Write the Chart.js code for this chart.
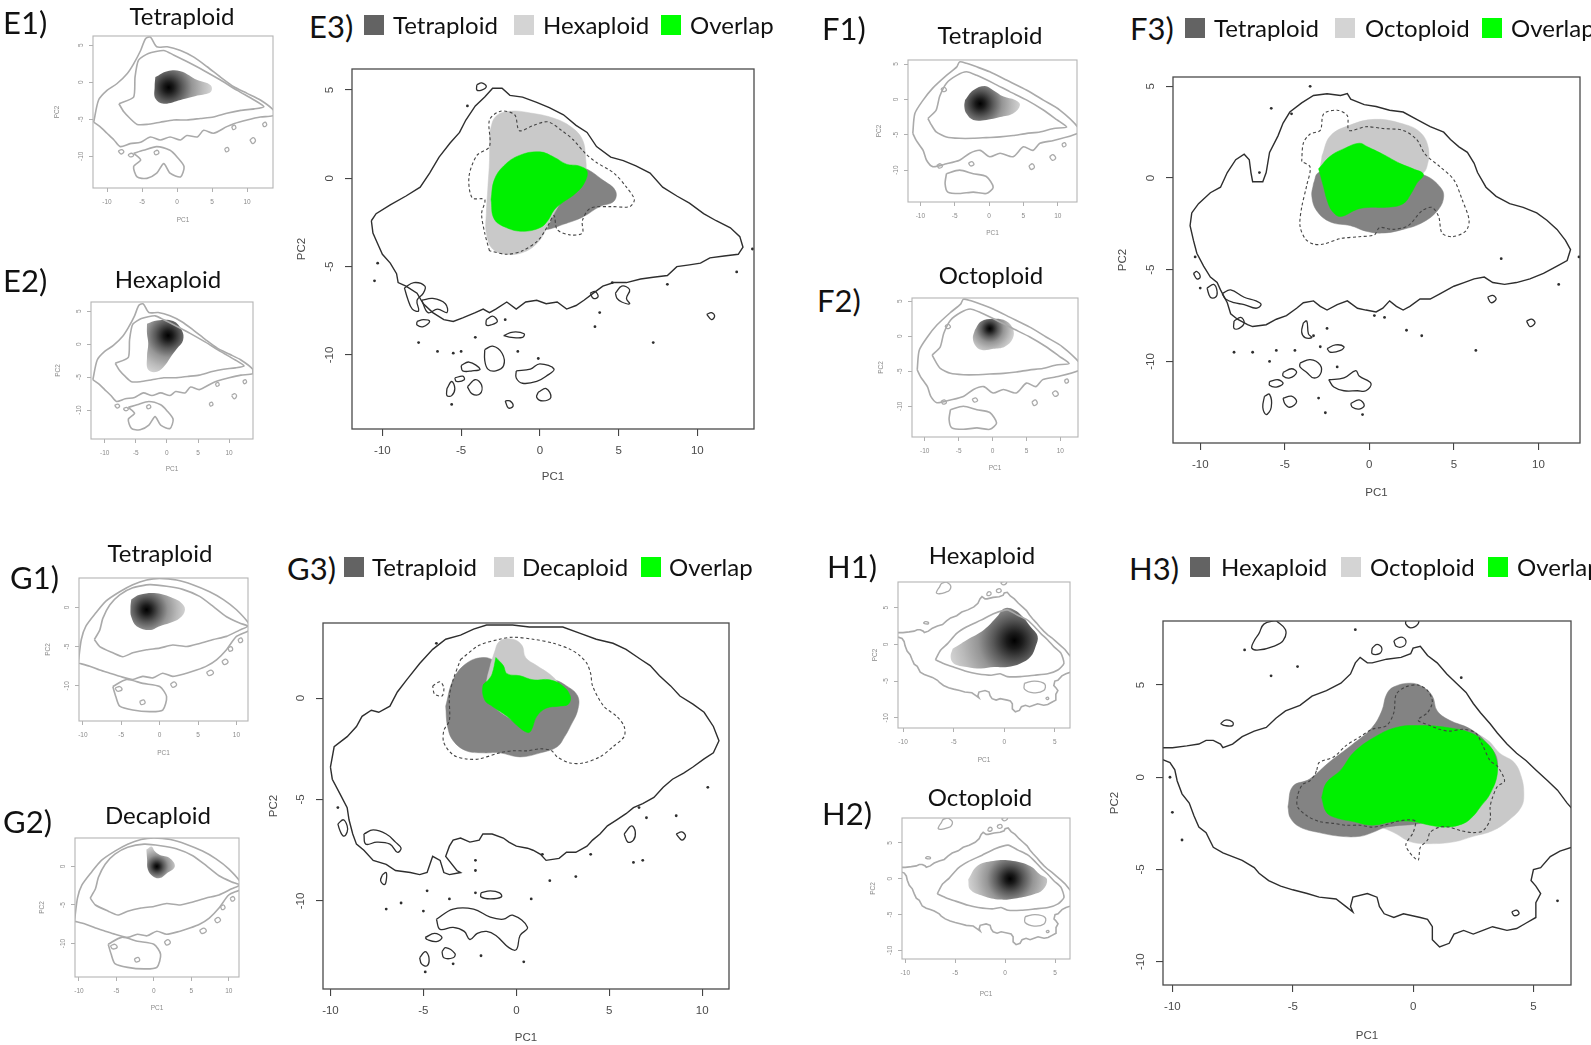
<!DOCTYPE html>
<html>
<head>
<meta charset="utf-8">
<script src="https://cdn.jsdelivr.net/npm/chart.js@4.4.1/dist/chart.umd.min.js"></script>
<style>
  body { margin: 0; background: #fff; width: 1591px; height: 1045px; overflow: hidden; position: relative; font-family: Lato, sans-serif; }
  canvas { position: absolute; }
  .t { position: absolute; white-space: nowrap; line-height: 1; color: #111; transform: translateY(-50%); }
  .c { transform: translate(-50%, -50%); }
  .sq { position: absolute; width: 20px; height: 20px; }
</style>
</head>
<body>
<script>
// ---- tick labels ----
const X_TICKS = [-10, -5, 0, 5, 10];
const X_TICKS_H = [-10, -5, 0, 5];
const Y_TICKS = [5, 0, -5, -10];
const Y_TICKS_G = [0, -5, -10];

// ---- E: tetraploid vs hexaploid ----
const E_OUTER = [[-10.7,-2.4],[-10.4,-2.0],[-9.5,-1.5],[-8.5,-1.0],[-7.6,-0.5],[-7.0,0.3],[-6.4,1.2],[-5.7,2.0],[-5.1,2.6],[-4.7,3.3],[-4.1,4.1],[-3.5,4.6],[-3.0,5.1],[-2.4,5.1],[-1.9,4.7],[-1.1,4.6],[-0.2,4.3],[0.6,4.0],[1.5,3.6],[2.3,3.0],[3.0,2.6],[3.6,1.8],[4.5,1.2],[5.3,1.0],[6.1,0.7],[7.0,0.3],[7.8,-0.5],[8.7,-1.0],[9.5,-1.4],[10.4,-2.0],[11.2,-2.4],[12.1,-2.8],[12.7,-3.3],[12.9,-3.9],[12.6,-4.3],[11.7,-4.4],[10.8,-4.5],[10.2,-4.8],[9.5,-4.9],[8.7,-5.0],[8.1,-5.5],[7.2,-5.6],[6.4,-5.7],[5.5,-5.9],[4.7,-5.9],[4.0,-6.1],[3.4,-6.5],[2.8,-6.9],[2.3,-7.2],[1.7,-7.4],[1.1,-7.0],[0.4,-7.1],[-0.2,-6.9],[-0.9,-7.0],[-1.5,-7.4],[-2.1,-7.0],[-2.8,-7.4],[-3.2,-7.6],[-3.6,-7.4],[-4.1,-7.6],[-4.9,-7.9],[-5.5,-8.1],[-6.1,-8.0],[-6.8,-7.6],[-7.4,-7.1],[-7.8,-6.5],[-8.5,-6.1],[-9.0,-5.9],[-9.1,-5.4],[-9.5,-4.8],[-10.0,-4.3],[-10.3,-3.7],[-10.6,-3.1]];
const E_WIDE = [[-11.9,-5.4],[-11.2,-2.4],[-10.0,-1.1],[-8.6,-0.2],[-7.1,1.2],[-6.2,2.5],[-5.2,4.3],[-4.5,5.9],[-3.8,6.1],[-2.9,4.8],[-1.4,4.8],[0.5,4.3],[2.4,3.4],[4.3,2.1],[6.2,0.7],[8.1,-0.6],[10.0,-1.5],[11.9,-2.4],[13.8,-3.8],[13.8,-4.5],[11.9,-4.7],[10.0,-5.1],[8.1,-5.6],[7.1,-6.0],[5.2,-6.9],[3.8,-6.5],[2.9,-7.4],[1.4,-7.2],[0.5,-7.8],[-1.0,-7.4],[-2.4,-7.8],[-3.8,-7.4],[-5.2,-8.1],[-6.7,-8.3],[-8.1,-8.7],[-9.0,-7.8],[-10.0,-6.9],[-11.0,-6.0]];
const E_LOBE = [[-6.2,-9.6],[-4.8,-9.2],[-2.9,-8.7],[-1.0,-9.2],[0.0,-10.1],[1.0,-11.4],[0.5,-12.8],[-1.0,-12.3],[-1.9,-11.0],[-2.9,-12.3],[-4.3,-13.0],[-5.7,-12.8],[-6.2,-11.4],[-5.2,-10.5]];
const E_INNER = [[-8.3,-2.9],[-6.2,-2.0],[-6.0,0.7],[-5.5,3.0],[-4.1,3.9],[-1.9,4.3],[-0.5,3.7],[1.4,2.8],[3.8,1.6],[6.2,0.3],[8.6,-1.1],[11.0,-2.4],[12.4,-3.3],[11.0,-3.6],[9.1,-3.8],[7.1,-4.2],[5.2,-4.7],[3.3,-4.9],[1.4,-5.1],[-0.5,-5.1],[-2.4,-5.4],[-4.3,-5.7],[-5.7,-5.7],[-6.7,-4.9],[-7.6,-4.0]];
const E_ISLANDS = [
  [[-4.0,5.3],[-3.7,5.4],[-3.4,5.2],[-3.7,5.0],[-4.0,5.0]],
  [[-8.6,-6.2],[-8.0,-5.9],[-7.3,-6.1],[-7.4,-6.5],[-7.8,-6.9],[-7.7,-7.5],[-8.1,-7.4],[-8.4,-6.8]],
  [[-7.5,-6.9],[-6.8,-6.8],[-6.0,-7.1],[-5.9,-7.6],[-6.5,-7.4],[-7.1,-7.6]],
  [[-7.8,-8.1],[-7.4,-8.0],[-7.0,-8.1],[-7.4,-8.4],[-7.8,-8.3]],
  [[-3.4,-8.0],[-3.0,-7.8],[-2.7,-8.1],[-3.1,-8.3],[-3.4,-8.3]],
  [[-2.3,-8.9],[-1.7,-8.7],[-1.0,-8.8],[-1.1,-9.0],[-1.8,-9.0]],
  [[-3.5,-9.7],[-3.0,-9.5],[-2.4,-9.9],[-2.3,-10.6],[-2.8,-10.9],[-3.3,-10.8],[-3.5,-10.3]],
  [[-5.0,-10.6],[-4.5,-10.4],[-3.8,-10.8],[-4.3,-10.9],[-4.9,-10.9]],
  [[-5.4,-11.3],[-4.9,-11.2],[-4.8,-11.4],[-5.3,-11.5]],
  [[-5.9,-11.9],[-5.6,-11.5],[-5.4,-11.9],[-5.6,-12.3],[-5.9,-12.3]],
  [[-4.6,-11.8],[-4.1,-11.4],[-3.7,-11.7],[-3.8,-12.2],[-4.3,-12.2]],
  [[-1.5,-10.9],[-0.6,-10.8],[0.0,-10.5],[0.9,-10.8],[0.4,-11.2],[-0.2,-11.5],[-1.1,-11.6],[-1.5,-11.3]],
  [[-0.1,-12.1],[0.4,-11.9],[0.7,-12.4],[0.2,-12.6],[-0.2,-12.4]],
  [[-2.2,-12.6],[-1.9,-12.6],[-1.7,-12.9],[-2.0,-13.0]],
  [[3.2,-6.5],[3.5,-6.4],[3.7,-6.7],[3.4,-6.8]],
  [[4.8,-6.5],[5.2,-6.1],[5.7,-6.3],[5.5,-6.8],[5.7,-7.1],[5.2,-7.0],[4.9,-6.8]],
  [[10.6,-7.7],[10.9,-7.6],[11.1,-7.8],[10.9,-8.0]]
];
const E_SMALL_ISLANDS = [
  [[-8.4,-9.3],[-7.9,-9.1],[-7.6,-9.4],[-8.0,-9.7]],
  [[-7.0,-9.8],[-6.5,-9.6],[-6.2,-9.9],[-6.7,-10.1]],
  [[-3.3,-9.4],[-2.8,-9.2],[-2.6,-9.6],[-3.1,-9.8]],
  [[6.8,-9.0],[7.2,-8.8],[7.4,-9.2],[7.0,-9.4]],
  [[10.4,-7.8],[10.9,-7.5],[11.2,-7.9],[10.8,-8.3]],
  [[7.8,-6.0],[8.2,-5.8],[8.4,-6.2],[8.0,-6.4]],
  [[12.2,-5.6],[12.6,-5.4],[12.8,-5.8],[12.4,-6.0]]
];
const E_DOTS = [[-4.6,4.1],[-10.3,-4.8],[-10.5,-5.8],[4.6,-5.9],[8.1,-6.0],[3.8,-7.6],[3.5,-8.4],[7.2,-9.3],[12.5,-5.3],[13.5,-4.0],[-7.7,-9.3],[-6.5,-9.8],[-5.5,-9.9],[-5.0,-9.8],[-4.1,-9.0],[-1.4,-9.8],[-0.1,-10.2],[-5.6,-12.8],[-2.2,-8.0]];
const E3_DASH = [[-3.2,-4.1],[-3.5,-3.1],[-3.7,-2.0],[-3.5,-1.2],[-4.3,-1.1],[-4.5,0.1],[-4.0,1.3],[-3.2,1.8],[-3.2,3.3],[-2.5,3.8],[-1.6,3.6],[-1.3,2.7],[-0.4,3.0],[0.5,3.2],[1.4,2.7],[2.1,2.2],[2.9,1.4],[3.6,0.9],[4.7,0.3],[5.5,-0.5],[6.0,-1.2],[5.7,-1.6],[4.5,-1.6],[3.2,-1.7],[2.7,-2.4],[2.7,-3.1],[1.9,-3.2],[1.1,-2.9],[0.9,-2.1],[0.5,-2.7],[-0.1,-3.5],[-1.1,-4.1],[-2.1,-4.3]];
const E3_TETRA = [[-3.0,0.3],[-1.1,1.2],[1.1,1.0],[2.8,0.6],[4.0,-0.1],[4.8,-0.7],[4.7,-1.3],[3.8,-1.6],[2.7,-2.2],[1.5,-2.6],[0.4,-2.9],[-1.1,-2.9],[-2.3,-2.7],[-3.1,-2.0]];
const E3_HEXA = [[-3.2,2.6],[-2.8,3.5],[-1.9,3.8],[-0.6,3.7],[0.9,3.4],[2.0,2.9],[2.7,2.2],[2.9,1.2],[2.9,0.3],[2.5,-0.5],[1.5,-1.2],[0.9,-2.0],[0.4,-2.9],[-0.2,-3.7],[-1.1,-4.2],[-2.1,-4.3],[-3.0,-4.0],[-3.4,-3.1],[-3.4,-2.0],[-3.3,-0.5],[-3.2,1.0]];
const E3_OVERLAP = [[-3.1,-1.2],[-2.9,-0.1],[-2.3,0.7],[-1.3,1.3],[0.0,1.5],[0.9,1.2],[1.7,0.8],[2.5,0.7],[3.0,0.4],[2.8,-0.3],[2.2,-0.9],[1.4,-1.4],[0.9,-1.8],[0.5,-2.4],[0.0,-2.8],[-1.1,-3.0],[-2.1,-2.8],[-2.9,-2.3]];
const E1_BLOB = [[-3.1,0.7],[-1.4,1.5],[0.5,1.5],[2.9,0.3],[4.8,-0.4],[4.8,-1.3],[2.9,-1.8],[0.5,-2.4],[-1.9,-2.9],[-3.1,-2.2],[-3.2,-0.6]];
const E1_PEAK = [-1.2, -0.7];
const E2_BLOB = [[-3.2,3.1],[-1.6,3.6],[1.0,3.5],[2.4,2.1],[2.6,0.6],[1.6,-0.7],[0.8,-1.7],[-0.3,-3.2],[-1.6,-4.2],[-3.0,-3.9],[-3.2,-1.9],[-3.0,0.1],[-3.2,1.6]];
const E2_PEAK = [0.2, 1.3];

// ---- F: tetraploid vs octoploid ----
const F_OUTER = [[-10.5,-1.9],[-10.1,-1.4],[-9.4,-0.8],[-8.8,-0.5],[-8.4,0.3],[-7.9,1.0],[-7.4,1.3],[-7.1,1.0],[-7.0,0.3],[-6.9,-0.2],[-6.3,-0.2],[-6.1,0.3],[-5.9,1.4],[-5.4,2.3],[-5.1,3.0],[-4.7,3.6],[-4.0,4.1],[-3.3,4.5],[-2.5,4.6],[-1.7,4.5],[-1.3,4.6],[-1.1,4.3],[-0.3,4.0],[0.4,3.9],[1.2,3.7],[2.0,3.6],[2.8,3.2],[3.6,2.8],[4.4,2.5],[4.8,2.1],[5.3,1.7],[5.8,1.4],[6.2,0.8],[6.4,0.3],[6.9,-0.5],[7.5,-1.0],[8.3,-1.4],[9.1,-1.6],[9.9,-1.9],[10.5,-2.3],[11.1,-2.8],[11.6,-3.4],[11.9,-3.9],[11.7,-4.5],[11.1,-4.8],[10.3,-5.2],[9.5,-5.5],[8.7,-5.7],[8.0,-5.8],[7.3,-5.7],[6.8,-5.4],[6.2,-5.5],[5.6,-5.7],[5.0,-5.9],[4.2,-6.3],[3.6,-6.6],[3.0,-6.6],[2.4,-7.0],[2.0,-7.2],[1.6,-7.0],[1.2,-6.7],[0.8,-7.1],[0.4,-7.3],[-0.2,-7.2],[-0.7,-7.1],[-1.3,-6.7],[-1.9,-6.9],[-2.5,-7.2],[-2.9,-7.0],[-3.3,-6.7],[-3.9,-6.8],[-4.3,-7.1],[-4.9,-7.5],[-5.5,-7.7],[-6.1,-8.0],[-6.9,-8.1],[-7.2,-8.0],[-7.8,-7.7],[-8.2,-7.4],[-8.4,-6.8],[-8.8,-6.1],[-9.0,-5.7],[-9.4,-5.4],[-9.8,-4.8],[-10.2,-4.1],[-10.4,-3.4],[-10.6,-2.6]];
const F_WIDE = [[-11.1,-4.8],[-10.8,-2.0],[-9.6,-0.1],[-8.2,1.6],[-6.2,3.4],[-4.7,4.6],[-4.3,5.3],[-3.3,5.1],[-1.8,4.6],[0.1,3.9],[2.6,2.7],[5.5,1.3],[7.9,-0.1],[10.3,-1.5],[12.9,-3.9],[12.9,-4.8],[9.4,-5.8],[7.4,-6.2],[6.4,-7.2],[5.0,-6.7],[3.5,-8.1],[1.6,-7.6],[0.1,-8.1],[-1.3,-7.2],[-2.8,-7.6],[-4.3,-8.6],[-6.2,-9.1],[-8.2,-9.5],[-9.1,-8.6],[-9.6,-7.2],[-10.6,-5.8]];
const F_LOBE = [[-6.2,-10.5],[-4.3,-10.0],[-2.3,-10.5],[-0.4,-10.9],[0.6,-12.4],[-0.4,-13.3],[-2.3,-13.1],[-4.3,-13.3],[-6.0,-13.1],[-6.4,-11.9]];
const F_INNER = [[-8.9,-2.7],[-7.7,-1.5],[-7.2,0.4],[-6.2,2.3],[-4.7,3.4],[-3.3,3.9],[-1.8,3.4],[0.6,2.3],[3.0,1.1],[5.5,-0.1],[7.9,-1.5],[9.9,-2.9],[11.3,-3.9],[9.4,-4.1],[7.4,-4.6],[5.5,-4.8],[3.5,-5.1],[1.6,-5.3],[-0.4,-5.4],[-2.3,-5.5],[-4.3,-5.5],[-6.2,-5.3],[-7.7,-4.6],[-8.4,-3.6]];
const F_ISLANDS = [
  [[-10.4,-5.2],[-10.2,-5.1],[-10.0,-5.4],[-10.2,-5.5]],
  [[-9.6,-6.0],[-9.2,-5.8],[-9.0,-6.2],[-9.1,-6.5],[-9.4,-6.5]],
  [[-8.7,-6.3],[-8.2,-6.1],[-7.4,-6.5],[-6.7,-6.7],[-6.4,-6.9],[-6.7,-7.1],[-7.4,-6.9],[-8.0,-6.8],[-8.5,-6.6]],
  [[-8.0,-7.8],[-7.6,-7.6],[-7.4,-7.9],[-7.7,-8.2],[-8.0,-8.2]],
  [[-3.9,-7.9],[-3.7,-7.8],[-3.6,-8.5],[-3.4,-8.7],[-3.8,-8.7],[-4.0,-8.4]],
  [[-2.5,-9.3],[-2.0,-9.1],[-1.5,-9.2],[-1.7,-9.4],[-2.3,-9.5]],
  [[-4.1,-10.1],[-3.5,-9.9],[-2.9,-10.2],[-2.9,-10.7],[-3.3,-10.9],[-3.7,-10.6],[-4.1,-10.3]],
  [[-5.1,-10.6],[-4.6,-10.4],[-4.3,-10.6],[-4.7,-10.9],[-5.1,-10.8]],
  [[-5.9,-11.1],[-5.4,-11.0],[-5.1,-11.2],[-5.5,-11.4],[-5.9,-11.3]],
  [[-2.4,-11.0],[-1.5,-10.9],[-0.8,-10.5],[-0.6,-10.8],[0.1,-11.2],[-0.2,-11.6],[-0.7,-11.6],[-1.5,-11.6],[-2.1,-11.4]],
  [[-6.2,-11.9],[-5.9,-11.8],[-5.8,-12.5],[-6.1,-12.9],[-6.3,-12.5]],
  [[-5.1,-12.0],[-4.6,-11.9],[-4.3,-12.2],[-4.7,-12.5],[-5.0,-12.3]],
  [[-1.1,-12.3],[-0.6,-12.1],[-0.3,-12.4],[-0.6,-12.6],[-1.0,-12.5]],
  [[7.0,-6.5],[7.3,-6.4],[7.5,-6.6],[7.2,-6.8]],
  [[9.3,-7.8],[9.6,-7.7],[9.8,-7.9],[9.5,-8.1]]
];
const F_SMALL_ISLANDS = [
  [[-7.0,1.5],[-6.5,1.7],[-6.2,1.3],[-6.7,1.1]],
  [[-7.6,-9.3],[-7.1,-9.1],[-6.8,-9.5],[-7.3,-9.7]],
  [[-3.0,-9.0],[-2.5,-8.8],[-2.2,-9.2],[-2.7,-9.4]],
  [[5.8,-9.4],[6.3,-9.1],[6.6,-9.6],[6.1,-9.9]],
  [[8.8,-8.1],[9.3,-7.8],[9.7,-8.3],[9.2,-8.6]],
  [[10.6,-6.3],[11.0,-6.1],[11.2,-6.5],[10.8,-6.7]]
];
const F_DOTS = [[-3.5,5.0],[-5.8,3.8],[-4.6,3.5],[-6.5,0.3],[-10.3,-4.3],[-10.0,-6.0],[7.8,-4.4],[11.2,-5.8],[12.4,-4.3],[0.3,-7.5],[0.9,-7.6],[-2.5,-8.2],[2.2,-8.3],[3.1,-8.6],[6.3,-9.4],[-8.0,-9.5],[-6.9,-9.5],[-5.5,-9.4],[-4.4,-9.4],[-3.3,-8.6],[-2.9,-9.2],[-5.9,-10.0],[-1.9,-10.3],[-3.0,-12.0],[-2.6,-12.8],[-0.4,-12.9]];
const F3_DASH = [[-4.0,0.9],[-3.9,1.9],[-3.5,2.4],[-2.9,2.6],[-2.7,3.5],[-1.9,3.7],[-1.3,3.4],[-1.2,2.6],[-0.2,2.8],[0.8,2.7],[2.0,2.6],[2.8,2.1],[3.3,1.3],[4.2,0.6],[5.0,-0.1],[5.5,-1.2],[5.9,-2.3],[5.7,-2.9],[4.9,-3.2],[4.3,-3.0],[4.1,-2.1],[3.7,-1.6],[3.1,-1.8],[2.3,-2.6],[1.4,-2.8],[0.6,-2.7],[0.3,-3.1],[-0.6,-3.2],[-1.7,-3.3],[-2.7,-3.6],[-3.3,-3.6],[-3.8,-3.3],[-4.1,-2.6],[-4.0,-1.6],[-3.7,-0.4],[-3.5,0.6]];
const F3_TETRA = [[-3.3,-0.3],[-3.0,0.3],[-1.5,0.6],[0.4,0.6],[2.4,0.3],[3.4,0.1],[4.2,-0.5],[4.4,-1.0],[4.1,-1.7],[3.2,-2.4],[2.0,-2.8],[0.8,-3.0],[-0.2,-2.9],[-1.1,-2.6],[-2.3,-2.4],[-3.1,-1.8],[-3.4,-1.0]];
const F3_OCTO = [[-2.8,1.2],[-2.3,2.3],[-1.1,2.9],[0.3,3.2],[1.8,3.0],[3.0,2.5],[3.5,1.6],[3.4,0.6],[3.1,0.2],[2.0,-0.5],[0.4,-1.0],[-1.1,-1.2],[-2.3,-0.8],[-2.9,0.1]];
const F3_OVERLAP = [[-3.0,0.5],[-2.3,1.2],[-1.5,1.6],[-0.6,1.9],[-0.1,1.7],[0.8,1.3],[1.8,0.8],[2.6,0.5],[3.2,0.2],[2.8,-0.3],[2.5,-0.8],[2.0,-1.4],[1.0,-1.6],[0.1,-1.6],[-0.7,-1.7],[-1.7,-2.1],[-2.2,-1.8],[-2.5,-1.2],[-2.7,-0.5]];
const F1_BLOB = [[-3.5,-0.1],[-2.3,1.3],[-0.6,1.9],[0.6,1.3],[2.1,0.4],[3.8,-0.1],[4.5,-0.8],[3.5,-2.0],[1.6,-2.5],[-0.4,-2.9],[-2.3,-2.9],[-3.3,-2.0],[-3.6,-1.0]];
const F1_PEAK = [-1.3, -0.6];
const F2_BLOB = [[-2.6,0.9],[-1.7,2.1],[0.1,2.5],[2.0,2.2],[3.0,1.1],[3.0,-0.3],[1.8,-1.5],[0.1,-1.8],[-1.4,-2.0],[-2.4,-1.5],[-2.9,-0.3]];
const F2_PEAK = [-0.4, 1.1];

// ---- G: tetraploid vs decaploid ----
const G_OUTER = [[-10.0,-3.4],[-9.8,-2.4],[-9.1,-1.9],[-8.6,-1.4],[-8.3,-0.9],[-7.8,-0.6],[-7.4,-0.7],[-6.8,-0.4],[-6.4,0.3],[-5.9,0.9],[-5.2,1.7],[-4.5,2.4],[-3.8,2.9],[-3.0,3.1],[-2.3,3.4],[-1.6,3.6],[-0.9,3.6],[-0.2,3.6],[0.7,3.5],[1.6,3.5],[2.5,3.5],[3.4,3.2],[4.3,2.9],[5.2,2.7],[5.9,2.4],[6.7,1.9],[7.2,1.6],[7.7,1.1],[8.3,0.6],[8.8,0.1],[9.5,-0.3],[10.1,-0.7],[10.6,-1.4],[10.9,-2.1],[10.6,-2.7],[10.1,-3.0],[9.5,-3.4],[9.0,-3.7],[8.4,-4.0],[7.9,-4.4],[7.4,-4.9],[6.8,-5.2],[6.3,-5.4],[5.9,-5.7],[5.4,-6.0],[4.9,-6.3],[4.5,-6.7],[4.1,-7.0],[3.8,-7.3],[3.2,-7.6],[2.7,-7.6],[2.3,-7.9],[1.6,-8.0],[1.3,-7.7],[0.9,-7.5],[0.6,-7.4],[0.0,-7.3],[-0.4,-7.1],[-0.7,-6.9],[-1.3,-6.7],[-1.8,-6.7],[-2.0,-7.0],[-2.5,-7.1],[-3.0,-6.9],[-3.4,-7.0],[-3.6,-7.3],[-3.8,-7.8],[-3.2,-8.5],[-3.0,-8.6],[-3.6,-8.7],[-3.9,-8.6],[-4.1,-8.0],[-4.5,-7.8],[-4.8,-8.6],[-5.2,-8.7],[-5.7,-8.6],[-6.5,-8.5],[-7.0,-8.2],[-7.7,-8.0],[-8.2,-7.5],[-8.6,-7.2],[-8.8,-6.7],[-9.0,-6.0],[-9.1,-5.4],[-9.5,-4.7],[-9.9,-4.0]];
const G_WIDE = [[-10.6,-7.1],[-10.2,-4.1],[-9.6,-2.4],[-8.3,-0.7],[-7.0,0.8],[-5.2,2.0],[-3.5,2.9],[-1.7,3.5],[0.0,3.7],[2.2,3.5],[4.3,2.9],[6.5,2.0],[8.3,1.0],[10.0,-0.3],[11.7,-2.2],[11.7,-2.9],[10.0,-3.7],[8.7,-5.4],[7.4,-6.7],[6.1,-7.5],[4.8,-8.0],[3.5,-8.4],[1.7,-8.8],[0.4,-8.4],[-0.9,-9.0],[-2.2,-8.8],[-3.5,-9.2],[-5.2,-8.8],[-6.5,-8.4],[-7.8,-8.0],[-9.1,-7.5]];
const G_LOBE = [[-6.1,-10.1],[-4.3,-9.2],[-2.2,-9.7],[0.0,-10.1],[0.9,-11.4],[0.4,-13.1],[-1.3,-13.3],[-3.5,-13.1],[-5.2,-12.6],[-5.7,-11.4]];
const G_INNER = [[-8.5,-4.1],[-7.8,-2.9],[-7.4,-1.4],[-6.5,0.3],[-5.2,1.6],[-3.5,2.5],[-1.3,2.9],[0.9,2.7],[3.0,2.3],[5.2,1.4],[7.0,0.1],[8.7,-1.2],[10.4,-2.0],[11.5,-2.4],[10.4,-2.9],[8.7,-3.7],[7.0,-4.1],[5.2,-4.6],[3.5,-5.0],[1.7,-4.8],[0.0,-5.2],[-1.7,-5.4],[-3.5,-5.8],[-4.8,-6.3],[-6.1,-5.8],[-7.8,-5.0]];
const G_ISLANDS = [
  [[-9.6,-6.2],[-9.3,-6.0],[-9.1,-6.3],[-9.1,-6.6],[-9.3,-6.8],[-9.5,-6.5]],
  [[-8.2,-6.7],[-7.7,-6.5],[-7.0,-6.7],[-6.5,-7.1],[-6.2,-7.4],[-6.4,-7.6],[-6.8,-7.2],[-7.5,-7.1],[-8.1,-7.2]],
  [[-7.2,-8.7],[-7.0,-8.6],[-7.0,-9.0],[-7.1,-9.2],[-7.3,-9.0]],
  [[-1.9,-9.6],[-1.4,-9.5],[-0.9,-9.6],[-0.8,-9.8],[-1.4,-9.9],[-1.9,-9.8]],
  [[-4.3,-10.9],[-3.4,-10.4],[-2.3,-10.4],[-1.4,-10.8],[-0.7,-10.9],[-0.2,-10.7],[0.6,-11.3],[0.2,-11.7],[0.0,-12.4],[-0.4,-12.3],[-1.1,-11.7],[-1.6,-11.5],[-2.1,-11.6],[-2.5,-11.9],[-2.8,-11.5],[-3.4,-11.3],[-4.1,-11.4]],
  [[-4.9,-11.8],[-4.4,-11.6],[-4.0,-11.8],[-4.3,-12.0],[-4.8,-11.9]],
  [[-4.0,-12.5],[-3.8,-12.3],[-3.3,-12.6],[-3.4,-12.8],[-3.9,-12.8]],
  [[-5.2,-12.8],[-4.9,-12.5],[-4.7,-12.8],[-4.8,-13.2],[-5.1,-13.1]],
  [[5.8,-6.7],[6.2,-6.3],[6.4,-6.6],[6.3,-7.0],[6.0,-7.1]],
  [[8.6,-6.7],[8.9,-6.6],[9.1,-6.8],[8.9,-7.0]]
];
const G_SMALL_ISLANDS = [
  [[-5.8,-10.3],[-5.2,-10.1],[-4.9,-10.5],[-5.5,-10.7]],
  [[-2.6,-12.0],[-2.1,-11.8],[-1.9,-12.2],[-2.4,-12.4]],
  [[1.4,-9.8],[1.9,-9.5],[2.2,-9.9],[1.7,-10.2]],
  [[6.1,-8.3],[6.7,-8.0],[7.0,-8.4],[6.4,-8.7]],
  [[8.1,-6.9],[8.6,-6.6],[8.9,-7.0],[8.4,-7.3]],
  [[8.9,-5.2],[9.3,-5.0],[9.5,-5.4],[9.1,-5.6]],
  [[10.2,-4.1],[10.6,-3.9],[10.8,-4.3],[10.4,-4.5]]
];
const G_DOTS = [[-4.3,2.7],[-9.6,-5.4],[6.6,-5.4],[7.0,-5.9],[8.6,-5.8],[10.3,-4.4],[1.4,-7.7],[4.0,-7.7],[6.3,-8.1],[6.8,-8.0],[-2.2,-8.0],[-2.2,-8.5],[1.8,-9.0],[3.2,-8.8],[-4.8,-9.5],[-3.6,-9.9],[-2.2,-9.6],[0.8,-9.9],[-6.2,-10.1],[-7.0,-10.4],[-5.0,-10.5],[-1.9,-12.7],[0.4,-13.0],[-3.4,-13.1],[-4.9,-13.5]];
const G3_DASH = [[-3.0,1.9],[-2.0,2.6],[-0.9,2.9],[-0.2,3.0],[0.9,2.9],[2.0,2.7],[2.9,2.4],[3.4,2.1],[3.8,1.7],[4.0,1.2],[4.1,0.6],[4.7,-0.4],[5.4,-0.9],[5.8,-1.4],[5.8,-1.9],[5.2,-2.4],[4.5,-2.9],[3.6,-3.2],[2.9,-3.2],[2.2,-2.9],[1.9,-2.6],[1.3,-2.5],[0.6,-2.6],[-0.2,-2.6],[-0.9,-2.7],[-2.0,-3.0],[-2.7,-3.0],[-3.4,-2.8],[-3.9,-2.2],[-3.9,-1.6],[-3.6,-1.1],[-3.6,0.1],[-3.4,0.9]];
const G3_DASH2 = [[-4.5,0.6],[-4.1,0.8],[-3.9,0.5],[-4.0,0.1],[-4.4,0.2]];
const G3_TETRA = [[-3.8,-0.4],[-3.4,0.9],[-2.7,1.7],[-1.8,2.0],[-1.1,1.8],[-0.2,1.2],[0.9,0.9],[2.0,0.9],[2.7,0.6],[3.3,0.1],[3.3,-0.6],[2.9,-1.4],[2.6,-1.9],[2.2,-2.4],[1.3,-2.7],[0.2,-2.9],[-0.9,-2.7],[-1.8,-2.7],[-2.7,-2.6],[-3.4,-2.1],[-3.7,-1.4]];
const G3_DECA = [[-1.2,2.2],[-0.9,2.8],[-0.2,2.9],[0.3,2.6],[0.5,2.0],[1.1,1.6],[1.9,1.1],[2.2,0.7],[1.6,0.1],[0.9,-0.9],[0.6,-1.6],[-0.2,-1.1],[-1.3,-0.3],[-1.6,0.6],[-1.4,1.6]];
const G3_OVERLAP = [[-1.1,2.0],[-0.7,1.6],[-0.5,1.2],[0.2,1.1],[0.9,0.9],[1.8,0.9],[2.5,0.6],[2.9,0.1],[2.8,-0.3],[2.3,-0.4],[1.6,-0.5],[1.1,-0.9],[0.8,-1.6],[0.6,-1.7],[0.1,-1.4],[-0.5,-0.9],[-1.3,-0.4],[-1.7,-0.1],[-1.8,0.6],[-1.5,0.9],[-1.3,1.2]];
const G1_BLOB = [[-3.7,1.0],[-2.6,1.6],[-0.4,1.8],[1.7,1.2],[2.8,0.6],[3.3,-0.3],[2.6,-1.4],[1.3,-2.0],[0.0,-2.4],[-1.3,-2.9],[-3.0,-2.4],[-3.7,-1.2],[-3.8,-0.1]];
const G1_PEAK = [-1.7, -0.3];
const G2_BLOB = [[-1.0,2.2],[-0.3,2.6],[0.1,2.0],[0.8,1.5],[2.1,1.1],[2.8,0.0],[1.7,-0.9],[0.8,-1.5],[-0.1,-1.3],[-0.8,-0.4],[-0.9,0.9]];
const G2_PEAK = [0.4, 0.0];

// ---- H: hexaploid vs octoploid ----
const H_UPPER = [[-10.5,1.6],[-10.0,1.6],[-9.4,1.7],[-8.9,1.8],[-8.6,2.0],[-8.3,2.0],[-8.0,1.8],[-7.9,1.6],[-7.5,1.8],[-7.3,2.0],[-7.1,2.2],[-6.6,2.5],[-6.1,2.7],[-5.7,3.2],[-5.3,3.6],[-4.7,3.9],[-4.2,4.4],[-3.6,4.7],[-3.0,5.1],[-2.6,5.6],[-2.4,6.2],[-2.2,6.5],[-1.9,6.2],[-1.7,6.2],[-1.1,6.4],[-0.5,6.5],[-0.1,6.7],[0.0,7.0],[0.3,7.1],[0.6,6.6],[1.0,6.2],[1.4,5.6],[1.8,5.1],[2.2,4.6],[2.5,4.0],[2.8,3.5],[3.2,2.9],[3.5,2.4],[3.9,1.8],[4.3,1.3],[4.7,0.9],[5.1,0.4],[5.6,-0.2],[6.0,-0.7],[6.4,-1.4],[6.8,-2.0]];
const H_LOWER = [[6.8,-3.7],[6.1,-4.0],[5.7,-4.3],[5.3,-4.9],[5.0,-5.0],[4.9,-5.6],[5.1,-5.9],[5.3,-6.3],[5.1,-6.8],[5.1,-7.6],[4.7,-7.9],[4.3,-8.2],[3.9,-8.3],[3.3,-8.1],[2.9,-8.3],[2.5,-8.5],[2.1,-8.3],[1.7,-8.5],[1.5,-9.0],[1.1,-9.2],[0.8,-8.8],[0.8,-8.1],[0.6,-7.7],[0.3,-7.6],[-0.4,-7.4],[-0.8,-7.6],[-1.2,-7.4],[-1.4,-7.0],[-1.5,-6.5],[-1.9,-6.3],[-2.5,-6.5],[-2.6,-7.0],[-2.5,-7.3],[-2.8,-7.0],[-3.2,-6.6],[-3.9,-6.5],[-4.4,-6.3],[-5.0,-6.1],[-5.5,-5.9],[-6.0,-5.6],[-6.4,-5.2],[-6.6,-4.9],[-7.1,-4.5],[-7.5,-4.3],[-7.9,-4.1],[-8.3,-3.8],[-8.6,-3.0],[-8.9,-2.7],[-9.1,-2.1],[-9.3,-1.4],[-9.6,-0.9],[-9.8,-0.2],[-9.9,0.4],[-10.1,0.8],[-10.5,1.0]];
const H_INNER = [[-6.8,-2.1],[-6.3,-0.8],[-5.6,0.1],[-4.7,1.5],[-3.7,2.4],[-2.3,3.3],[-1.0,4.2],[0.3,4.7],[1.3,4.0],[2.3,3.3],[3.0,2.4],[3.6,1.5],[4.3,0.6],[4.9,-0.3],[5.6,-1.2],[5.9,-2.6],[5.3,-3.5],[4.3,-4.0],[3.0,-4.2],[1.6,-4.4],[0.3,-4.4],[-0.4,-4.0],[-1.3,-4.2],[-2.7,-4.0],[-3.7,-3.7],[-5.0,-3.1],[-6.0,-2.6]];
const H_SMALL_LOOP = [[2.0,-5.3],[3.0,-5.0],[4.0,-5.4],[3.9,-6.3],[2.9,-6.6],[2.0,-6.1]];
const H_ISLANDS = [
  [[-5.7,8.5],[-6.2,8.3],[-6.4,7.8],[-6.6,7.4],[-6.7,7.0],[-6.4,6.9],[-5.8,7.1],[-5.4,7.4],[-5.3,8.0]],
  [[-1.7,7.0],[-1.5,7.2],[-1.3,7.0],[-1.4,6.7],[-1.7,6.7]],
  [[-0.8,7.4],[-0.5,7.6],[-0.3,7.4],[-0.4,7.1],[-0.7,7.1]],
  [[-0.3,8.5],[-0.3,8.3],[-0.1,8.1],[0.2,8.3],[0.2,8.6]],
  [[-8.0,2.9],[-7.8,3.1],[-7.5,3.0],[-7.5,2.8],[-7.8,2.8]],
  [[4.1,-7.3],[4.3,-7.2],[4.4,-7.4],[4.2,-7.5]]
];
const H_DOTS = [[-7.0,6.9],[-5.9,5.5],[-4.8,6.0],[-2.4,8.0],[2.0,5.4],[-10.1,0.0],[-10.0,-1.9],[-9.6,-3.4],[6.0,-6.7]];
const H3_DASH = [[-4.0,0.4],[-3.9,0.8],[-3.3,1.1],[-2.8,1.7],[-2.2,2.2],[-1.7,2.6],[-1.1,2.8],[-0.8,3.5],[-0.7,4.5],[-0.3,4.9],[0.2,5.0],[0.6,4.7],[0.8,4.1],[0.6,3.5],[0.2,3.1],[0.7,2.8],[1.1,2.6],[1.5,2.5],[2.1,2.6],[2.6,2.4],[2.9,1.7],[3.2,0.9],[3.5,0.6],[3.8,-0.2],[3.5,-0.5],[3.3,-1.1],[3.2,-1.6],[3.2,-2.3],[2.9,-2.9],[2.5,-3.0],[2.0,-2.9],[1.5,-2.7],[1.1,-2.7],[0.7,-3.0],[0.6,-3.4],[0.3,-3.8],[0.2,-4.5],[-0.3,-3.7],[0.0,-3.0],[0.1,-2.4],[-0.1,-2.3],[-0.7,-2.4],[-1.2,-2.6],[-1.7,-2.7],[-2.2,-2.6],[-2.8,-2.6],[-3.3,-2.5],[-3.9,-2.4],[-4.4,-2.1],[-4.8,-1.6],[-4.8,-1.0],[-4.6,-0.4],[-4.3,-0.2],[-4.1,0.1]];
const H3_HEXA = [[-5.2,-1.6],[-5.0,-0.5],[-4.3,-0.1],[-3.5,0.8],[-2.5,1.8],[-1.7,2.7],[-1.3,3.6],[-1.1,4.5],[-0.8,4.9],[-0.1,5.1],[0.4,4.9],[0.8,4.4],[1.0,3.6],[1.5,3.1],[2.4,2.6],[3.1,1.8],[3.5,0.9],[3.3,-0.2],[2.8,-1.2],[1.7,-2.0],[0.3,-2.5],[-1.1,-2.7],[-1.7,-3.0],[-2.2,-3.2],[-3.0,-3.2],[-3.9,-3.0],[-4.7,-2.7],[-5.1,-2.2]];
const H3_OCTO = [[-3.9,-0.5],[-3.2,0.6],[-2.2,1.7],[-1.1,2.5],[0.0,2.8],[1.1,2.7],[2.2,2.6],[3.1,2.0],[3.6,1.3],[4.2,0.8],[4.5,0.0],[4.6,-0.9],[4.5,-1.6],[4.0,-2.3],[3.3,-2.9],[2.5,-3.2],[1.7,-3.5],[0.7,-3.6],[-0.1,-3.5],[-0.8,-3.0],[-1.4,-2.7],[-2.5,-2.5],[-3.3,-2.1],[-3.7,-1.6]];
const H3_OVERLAP = [[-3.8,-1.1],[-3.6,-0.3],[-3.0,0.4],[-2.5,1.3],[-1.7,2.1],[-0.7,2.7],[0.3,2.8],[1.4,2.7],[2.4,2.4],[3.1,1.8],[3.4,1.2],[3.5,0.2],[3.2,-0.9],[2.8,-1.6],[2.5,-2.1],[2.1,-2.5],[1.4,-2.7],[0.7,-2.6],[0.0,-2.4],[-0.8,-2.4],[-1.7,-2.6],[-2.5,-2.4],[-3.2,-2.2],[-3.6,-1.9]];
const H1_BLOB = [[-5.1,-0.6],[-3.7,0.6],[-2.0,2.0],[-0.7,3.8],[0.0,4.9],[1.0,4.7],[1.8,3.8],[2.6,2.4],[3.3,1.1],[3.1,-0.3],[2.6,-1.7],[1.6,-2.6],[0.3,-3.1],[-1.0,-3.1],[-2.3,-3.3],[-3.7,-3.1],[-5.0,-2.6],[-5.3,-1.7]];
const H1_PEAK = [1.0, 0.5];
const H2_BLOB = [[-3.7,-0.1],[-2.8,1.8],[-1.2,2.5],[0.8,2.5],[2.5,1.8],[3.5,0.6],[4.2,-0.1],[3.8,-1.5],[2.8,-2.2],[1.2,-2.7],[-0.5,-2.9],[-2.2,-2.4],[-3.5,-1.5]];
const H2_PEAK = [0.5, 0.0];

// ---- colours ----
const INK = '#2e2e2e';
const LIGHT_LINE = '#aaaaaa';
const DARK_FILL = '#838383';
const LIGHT_FILL = '#c9c9c9';
const GREEN = '#00f000';

const pts = a => a.map(p => ({ x: p[0], y: p[1] }));
const loop = a => pts(a.concat([a[0]]));

function outline(a, color, w, order, tension, dash, open) {
    return { data: open ? pts(a) : loop(a), borderColor: color, borderWidth: w, borderDash: dash || [],
        fill: false, tension: tension || 0, pointRadius: 0, order: order };
}

function area(a, color, order) {
    return { data: loop(a), borderColor: color, borderWidth: 0.5, backgroundColor: color,
        fill: 'shape', tension: 0.4, pointRadius: 0, order: order };
}

function dotSet(a, color, r) {
    return { data: pts(a), showLine: false, pointRadius: r, pointBackgroundColor: color,
        pointBorderWidth: 0, borderColor: color, order: 0 };
}

// radial shading for the density blobs, centred on the peak through the chart scales
function blobShade(a, peak) {
    return (ctx) => {
        const chart = ctx.chart;
        if (!chart.chartArea) return '#999';
        const xs = chart.scales.x, ys = chart.scales.y;
        const cx = xs.getPixelForValue(peak[0]), cy = ys.getPixelForValue(peak[1]);
        let r = 1;
        a.forEach(p => {
            r = Math.max(r, Math.hypot(xs.getPixelForValue(p[0]) - cx, ys.getPixelForValue(p[1]) - cy));
        });
        const g = chart.ctx.createRadialGradient(cx, cy, 0, cx, cy, r);
        g.addColorStop(0, '#000');
        g.addColorStop(0.12, '#1a1a1a');
        g.addColorStop(0.32, '#585858');
        g.addColorStop(0.55, '#959595');
        g.addColorStop(0.8, '#bababa');
        g.addColorStop(1, '#d2d2d2');
        return g;
    };
}

function smallSets(outer, open, inner, islands, blob, peak, extra) {
    const sets = [];
    islands.forEach(a => sets.push(outline(a, LIGHT_LINE, 1.3, 1, 0.4)));
    outer.forEach(a => sets.push(outline(a, LIGHT_LINE, 1.6, 1, open ? 0 : 0.25, null, open)));
    sets.push(outline(inner, LIGHT_LINE, 1.6, 1, 0.2));
    if (extra) sets.push(outline(extra, LIGHT_LINE, 1.3, 1, 0.4));
    sets.push({ data: loop(blob), borderWidth: 1, borderColor: 'rgba(0,0,0,0)', backgroundColor: blobShade(blob, peak),
        fill: 'shape', tension: 0.4, pointRadius: 0, order: 3 });
    return sets;
}

function bigSets(o) {
    const sets = [];
    o.islands.forEach(a => sets.push(outline(a, INK, 1.3, 1, 0.4)));
    o.outer.forEach(a => sets.push(outline(a, INK, 1.4, 1, 0, null, o.open)));
    o.dash.forEach(a => sets.push(outline(a, '#444', 1.1, 0, 0.3, [3, 2.5])));
    sets.push(dotSet(o.dots, INK, 1.4));
    sets.push(area(o.overlap, GREEN, 2));
    sets.push(area(o.top, o.topColor, 3));
    sets.push(area(o.bottom, o.bottomColor, 4));
    return sets;
}

const PANELS = [
    { box: [93, 36, 273, 188], xr: [-12, 13.7], yr: [-14.3, 6.26], xt: X_TICKS, yt: Y_TICKS, small: true, pc1: 32, pc2: 36,
      sets: () => smallSets([E_WIDE, E_LOBE], false, E_INNER, E_SMALL_ISLANDS, E1_BLOB, E1_PEAK) },
    { box: [91, 302, 253, 439], xr: [-12.2, 13.84], yr: [-14.4, 6.4], xt: X_TICKS, yt: Y_TICKS, small: true, pc1: 30.5, pc2: 32.5,
      sets: () => smallSets([E_WIDE, E_LOBE], false, E_INNER, E_SMALL_ISLANDS, E2_BLOB, E2_PEAK) },
    { box: [352, 69, 754, 429], xr: [-11.93, 13.6], yr: [-14.19, 6.19], xt: X_TICKS, yt: Y_TICKS, small: false, pc1: 48, pc2: 50,
      sets: () => bigSets({ outer: [E_OUTER], open: false, islands: E_ISLANDS, dots: E_DOTS, dash: [E3_DASH],
          overlap: E3_OVERLAP, top: E3_HEXA, topColor: LIGHT_FILL, bottom: E3_TETRA, bottomColor: DARK_FILL }) },
    { box: [908, 60, 1077, 202], xr: [-11.8, 12.8], yr: [-14.5, 5.57], xt: X_TICKS, yt: Y_TICKS, small: true, pc1: 31.3, pc2: 28.3,
      sets: () => smallSets([F_WIDE, F_LOBE], false, F_INNER, F_SMALL_ISLANDS, F1_BLOB, F1_PEAK) },
    { box: [912, 298, 1078, 437], xr: [-11.87, 12.6], yr: [-14.4, 5.47], xt: X_TICKS, yt: Y_TICKS, small: true, pc1: 31.6, pc2: 30.6,
      sets: () => smallSets([F_WIDE, F_LOBE], false, F_INNER, F_SMALL_ISLANDS, F2_BLOB, F2_PEAK) },
    { box: [1173, 77, 1580, 443], xr: [-11.61, 12.46], yr: [-14.45, 5.51], xt: X_TICKS, yt: Y_TICKS, small: false, pc1: 50, pc2: 49.7,
      sets: () => bigSets({ outer: [F_OUTER], open: false, islands: F_ISLANDS, dots: F_DOTS, dash: [F3_DASH],
          overlap: F3_OVERLAP, top: F3_TETRA, topColor: DARK_FILL, bottom: F3_OCTO, bottomColor: LIGHT_FILL }) },
    { box: [79, 578, 248, 721], xr: [-10.5, 11.5], yr: [-14.5, 3.75], xt: X_TICKS, yt: Y_TICKS_G, small: true, pc1: 32.3, pc2: 31,
      sets: () => smallSets([G_WIDE, G_LOBE], false, G_INNER, G_SMALL_ISLANDS, G1_BLOB, G1_PEAK) },
    { box: [75, 838, 239, 977], xr: [-10.53, 11.37], yr: [-14.35, 3.7], xt: X_TICKS, yt: Y_TICKS_G, small: true, pc1: 31.6, pc2: 32.3,
      sets: () => smallSets([G_WIDE, G_LOBE], false, G_INNER, G_SMALL_ISLANDS, G2_BLOB, G2_PEAK) },
    { box: [323, 623, 729, 989], xr: [-10.4, 11.44], yr: [-14.34, 3.7], xt: X_TICKS, yt: Y_TICKS_G, small: false, pc1: 49, pc2: 49,
      sets: () => bigSets({ outer: [G_OUTER], open: false, islands: G_ISLANDS, dots: G_DOTS, dash: [G3_DASH, G3_DASH2],
          overlap: G3_OVERLAP, top: G3_DECA, topColor: LIGHT_FILL, bottom: G3_TETRA, bottomColor: DARK_FILL }) },
    { box: [898, 582, 1070, 728], xr: [-10.5, 6.5], yr: [-11.4, 8.5], xt: X_TICKS_H, yt: Y_TICKS, small: true, pc1: 32, pc2: 23,
      sets: () => smallSets([H_UPPER, H_LOWER], true, H_INNER, H_ISLANDS, H1_BLOB, H1_PEAK, H_SMALL_LOOP) },
    { box: [902, 818, 1070, 959], xr: [-10.33, 6.5], yr: [-11.2, 8.49], xt: X_TICKS_H, yt: Y_TICKS, small: true, pc1: 35.7, pc2: 29,
      sets: () => smallSets([H_UPPER, H_LOWER], true, H_INNER, H_ISLANDS, H2_BLOB, H2_PEAK, H_SMALL_LOOP) },
    { box: [1163, 621, 1571, 985], xr: [-10.39, 6.56], yr: [-11.26, 8.47], xt: X_TICKS_H, yt: Y_TICKS, small: false, pc1: 51, pc2: 48,
      sets: () => bigSets({ outer: [H_UPPER, H_LOWER], open: true, islands: H_ISLANDS, dots: H_DOTS, dash: [H3_DASH],
          overlap: H3_OVERLAP, top: H3_HEXA, topColor: DARK_FILL, bottom: H3_OCTO, bottomColor: LIGHT_FILL }) }
];

const framePlugin = {
    id: 'frame',
    afterDatasetsDraw(chart, args, opts) {
        const a = chart.chartArea, c = chart.ctx;
        c.save();
        c.strokeStyle = opts.color;
        c.lineWidth = opts.width;
        c.strokeRect(a.left, a.top, a.right - a.left, a.bottom - a.top);
        c.restore();
    }
};

function makePanel(p) {
    const big = !p.small;
    const W = big ? 62 : 44, H = big ? 60 : 42;
    const PL = 4, PT = 16, PR = 16, PB = 4;
    const [L, T, R, B] = p.box;
    const fs = big ? 11.5 : 6.5, lh = fs * 1.2;
    const tickCol = big ? '#444' : '#9c9c9c';
    const labCol = big ? '#4a4a4a' : '#8a8a8a';
    const tl = big ? 7 : 4;
    const font = { family: 'Liberation Sans', size: fs };

    const canvas = document.createElement('canvas');
    canvas.width = R - L + W + PL + PR;
    canvas.height = B - T + H + PT + PB;
    canvas.style.left = (L - W - PL) + 'px';
    canvas.style.top = (T - PT) + 'px';
    document.body.appendChild(canvas);

    new Chart(canvas, {
        type: 'line',
        data: { datasets: p.sets() },
        options: {
            animation: false,
            responsive: false,
            devicePixelRatio: 1,
            events: [],
            layout: { padding: { left: PL, top: PT, right: PR, bottom: PB } },
            elements: { point: { radius: 0 } },
            plugins: {
                legend: { display: false },
                tooltip: { enabled: false },
                frame: { color: big ? '#4a4a4a' : '#b4b4b4', width: big ? 1.3 : 1.1 }
            },
            scales: {
                x: {
                    type: 'linear', position: 'bottom', min: p.xr[0], max: p.xr[1],
                    afterBuildTicks: s => { s.ticks = p.xt.map(v => ({ value: v })); },
                    afterFit: s => { s.height = H; },
                    grid: { drawOnChartArea: false, drawTicks: true, tickLength: tl, color: tickCol, lineWidth: big ? 1.1 : 0.8 },
                    border: { display: false },
                    ticks: { font: font, color: labCol, padding: big ? 8 : 6.5, autoSkip: false, minRotation: 0, maxRotation: 0,
                        callback: v => String(v) },
                    title: { display: true, text: 'PC1', font: font, color: labCol,
                        padding: { top: 0, bottom: H - p.pc1 - lh / 2 } }
                },
                y: {
                    type: 'linear', position: 'left', min: p.yr[0], max: p.yr[1],
                    afterBuildTicks: s => { s.ticks = p.yt.map(v => ({ value: v })); },
                    afterFit: s => { s.width = W; },
                    grid: { drawOnChartArea: false, drawTicks: true, tickLength: tl, color: tickCol, lineWidth: big ? 1.1 : 0.8 },
                    border: { display: false },
                    ticks: { font: font, color: labCol, padding: big ? 6.7 : 3.3, autoSkip: false, minRotation: 90, maxRotation: 90,
                        crossAlign: 'center', callback: v => String(v) },
                    title: { display: true, text: 'PC2', font: font, color: labCol,
                        padding: { top: W - p.pc2 - lh / 2, bottom: 0 } }
                }
            }
        },
        plugins: [framePlugin]
    });
}

PANELS.forEach(makePanel);

// ---- text: panel letters, titles, legends ----
function addText(str, x, y, size, centred) {
    const d = document.createElement('div');
    d.className = centred ? 't c' : 't';
    d.textContent = str;
    d.style.left = x + 'px';
    d.style.top = y + 'px';
    d.style.fontSize = size + 'px';
    document.body.appendChild(d);
}

function addSquare(x, y, color) {
    const d = document.createElement('div');
    d.className = 'sq';
    d.style.left = x + 'px';
    d.style.top = (y - 10) + 'px';
    d.style.background = color;
    document.body.appendChild(d);
}

[['E1)', 3, 22], ['E2)', 3, 280], ['E3)', 309, 25.5], ['F1)', 822, 28], ['F2)', 817, 300], ['F3)', 1130, 27.5],
 ['G1)', 10, 577], ['G2)', 3, 821], ['G3)', 287, 567.5], ['H1)', 827, 566], ['H2)', 822, 813], ['H3)', 1129, 568]]
    .forEach(([s, x, y]) => addText(s, x, y, 31, false));

[['Tetraploid', 182, 16], ['Hexaploid', 168, 279], ['Tetraploid', 990, 34.5], ['Octoploid', 991, 274.5],
 ['Tetraploid', 160, 553], ['Decaploid', 158, 815], ['Hexaploid', 982, 554.5], ['Octoploid', 980, 796.5]]
    .forEach(([s, x, y]) => addText(s, x, y, 24, true));

const LEGENDS = [
    { y: 25, items: [['#636363', 364, 393, 'Tetraploid'], ['#d4d4d4', 514, 543, 'Hexaploid'], ['#00ff00', 661, 690, 'Overlap']] },
    { y: 27.5, items: [['#636363', 1185, 1214, 'Tetraploid'], ['#d4d4d4', 1335, 1365, 'Octoploid'], ['#00ff00', 1482, 1511, 'Overlap']] },
    { y: 567, items: [['#636363', 344, 372, 'Tetraploid'], ['#d4d4d4', 494, 522, 'Decaploid'], ['#00ff00', 641, 669, 'Overlap']] },
    { y: 567, items: [['#636363', 1190, 1221, 'Hexaploid'], ['#d4d4d4', 1341, 1370, 'Octoploid'], ['#00ff00', 1488, 1517, 'Overlap']] }
];
LEGENDS.forEach(l => l.items.forEach(([col, sx, tx, s]) => {
    addSquare(sx, l.y, col);
    addText(s, tx, l.y, 24, false);
}));
</script>
</body>
</html>
